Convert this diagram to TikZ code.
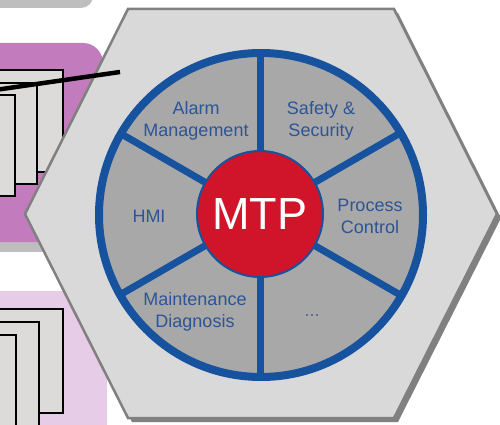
\documentclass[tikz,border=0pt]{standalone}
\usepackage{fontspec}
\setmainfont{Liberation Sans}
\usepackage{xcolor}
\definecolor{ringblue}{RGB}{22,82,158}
\definecolor{labelblue}{RGB}{44,84,150}
\definecolor{mtpred}{RGB}{208,20,42}
\definecolor{hexgray}{RGB}{217,217,217}
\definecolor{sectorgray}{RGB}{168,168,168}
\definecolor{edgegray}{RGB}{128,128,128}
\definecolor{orchid}{RGB}{194,124,190}
\definecolor{lightorchid}{RGB}{230,204,230}
\definecolor{panelgray}{RGB}{190,190,190}
\definecolor{cardgray}{RGB}{221,219,217}
\tikzset{>=latex}

\begin{document}
\begin{tikzpicture}[x=1pt,y=-1pt,
  card/.style={draw=black, line width=2.5, fill=cardgray},
  spoke/.style={ringblue, line width=7},
  seglabel/.style={text=labelblue, font=\fontsize{18}{22}\selectfont, align=center}]
  \clip (0,0) rectangle (500,425);
  \coordinate (H1) at (128,  9);
  \coordinate (H2) at (394,  9);
  \coordinate (H3) at (497,214);
  \coordinate (H4) at (394,418);
  \coordinate (H5) at (128,418);
  \coordinate (H6) at ( 25,214);
  \coordinate (O) at (261,215);
  \coordinate (C) at (260,214);
  \coordinate (L1) at (-5, 90);
  \coordinate (L2) at (120, 72);

  % PANELS ON THE LEFT
  \fill[panelgray, rounded corners=12] (-20,-30) rectangle (93,8);
  \fill[panelgray] (-20,200) rectangle (100,252);
  \fill[orchid, rounded corners=20] (-20,43) rectangle (103,242);
  \fill[lightorchid] (-20,291) rectangle (107,440);

  % CARDS
  \draw[card] (-10, 70) rectangle (63,172);
  \draw[card] (-10, 83) rectangle (37,184);
  \draw[card] (-10, 95) rectangle (15,196);
  \draw[card] (-10,309) rectangle (63,413);
  \draw[card] (-10,322) rectangle (39,440);
  \draw[card] (-10,335) rectangle (16,440);

  % HEXAGON
  \fill[edgegray]
    ([shift={(4,4)}]H1) -- ([shift={(4,4)}]H2) -- ([shift={(4,4)}]H3) --
    ([shift={(4,4)}]H4) -- ([shift={(4,4)}]H5) -- ([shift={(4,4)}]H6) -- cycle;
  \draw[edgegray, fill=hexgray, line width=2.5, line join=miter]
    (H1) -- (H2) -- (H3) -- (H4) -- (H5) -- (H6) -- cycle;

  % WHEEL
  \fill[sectorgray] (O) circle (162);
  \foreach \a in {30,90,...,330}
    \draw[spoke] (C) -- ++(\a:162);
  \draw[ringblue, line width=8] (O) circle (162);
  \node[circle, fill=mtpred, draw=ringblue, line width=2, minimum size=126,
        text=white, font=\fontsize{45}{45}\selectfont] (mtp) at (C) {MTP};

  \node[seglabel] (alarm)   at (196,121) {Alarm\\Management};
  \node[seglabel] (safety)  at (321,121) {Safety \&\\Security};
  \node[seglabel] (process) at (370,216) {Process\\Control};
  \node[seglabel] (hmi)     at (149,216) {HMI};
  \node[seglabel] (maint)   at (195,312) {Maintenance\\Diagnosis};
  \node[seglabel, text=labelblue!60!gray] (more) at (312,316) {...};

  \draw[black, line width=4.5] (L1) -- (L2);
\end{tikzpicture}
\end{document}
